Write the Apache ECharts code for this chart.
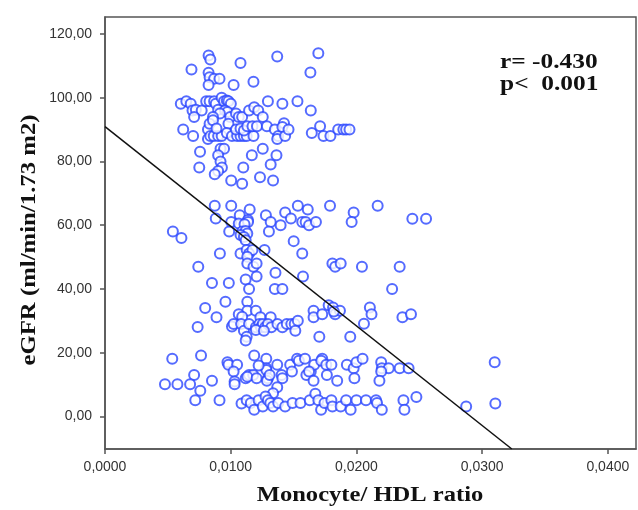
<!DOCTYPE html>
<html>
<head>
<meta charset="utf-8">
<script src="https://cdn.jsdelivr.net/npm/echarts@6/dist/echarts.min.js"></script>
<style>
  html, body { margin: 0; padding: 0; background: #fff; }
  #main { width: 638px; height: 510px; }
</style>
</head>
<body>
<div id="main"></div>
<script>
// points, [Monocyte/HDL ratio, eGFR], grouped by height
var band100 = [[0.00824,113.2],[0.00838,112.0],[0.00688,108.8],[0.01078,110.9],[0.0137,112.9],[0.01697,113.9],[0.01634,107.9],[0.00824,107.8],[0.00832,106.4],[0.00868,105.9],[0.00911,105.9],[0.00824,104.0],[0.01023,104.0],[0.01181,105.0]];
var band95 = [[0.00603,98.1],[0.00647,98.9],[0.00682,98.1],[0.00696,96.0],[0.00723,96.2],[0.00769,96.0],[0.00709,93.9],[0.00805,98.9],[0.00832,98.9],[0.00868,98.9],[0.00881,98.1],[0.00900,96.2],[0.00928,100.0],[0.00947,98.9],[0.00969,99.1],[0.00982,98.9],[0.01001,98.1],[0.00955,96.0],[0.00974,95.5],[0.00996,93.9],[0.00914,95.0],[0.00859,93.9],[0.01042,95.0],[0.01064,93.9],[0.01091,93.9],[0.01146,96.0],[0.01187,97.0],[0.01219,96.0],[0.01255,93.9],[0.01296,98.9],[0.01411,98.1],[0.01531,98.9],[0.01637,96.0]];
var band90 = [[0.00622,90.0],[0.00701,88.0],[0.00819,90.0],[0.00832,91.8],[0.00819,87.0],[0.00838,88.0],[0.00865,88.0],[0.00900,88.0],[0.00928,88.0],[0.00859,92.9],[0.00887,90.3],[0.00982,91.8],[0.00969,88.9],[0.01010,88.0],[0.01051,88.0],[0.01078,88.0],[0.01105,88.0],[0.01127,88.0],[0.01181,88.0],[0.01042,90.0],[0.01078,90.3],[0.01105,89.7],[0.01132,91.0],[0.01173,91.0],[0.01209,91.0],[0.01288,91.0],[0.01351,90.0],[0.01378,88.0],[0.0137,87.0],[0.01424,92.0],[0.01411,90.8],[0.01433,88.0],[0.01460,90.0],[0.01645,88.9],[0.01711,91.0],[0.01738,88.0],[0.01793,88.0],[0.01855,90.0],[0.01896,90.0],[0.01918,90.0],[0.01945,90.0]];
var band80 = [[0.00756,83.0],[0.00919,84.0],[0.00947,84.0],[0.00900,81.9],[0.00919,80.0],[0.00930,78.1],[0.00900,77.0],[0.00873,76.0],[0.00750,78.1],[0.01168,81.9],[0.01255,84.0],[0.01364,81.9],[0.01318,79.0],[0.01100,78.1],[0.01233,75.0],[0.01004,74.0],[0.01091,73.0],[0.01337,74.0]];
var band60 = [[0.00873,66.1],[0.01004,66.1],[0.01151,64.9],[0.01072,63.1],[0.00881,62.1],[0.01004,61.0],[0.01064,60.5],[0.01137,61.6],[0.01138,61.0],[0.01110,60.3],[0.01280,63.1],[0.01318,61.0],[0.01397,60.0],[0.01433,64.0],[0.01479,62.1],[0.01534,66.1],[0.01613,64.9],[0.01569,61.0],[0.01596,61.0],[0.01623,60.0],[0.01678,61.0],[0.01790,66.1],[0.01978,64.0],[0.01962,61.0],[0.02169,66.1],[0.02445,62.0],[0.02554,62.0],[0.00540,58.0],[0.00608,56.0],[0.00988,58.0],[0.01091,58.0],[0.01119,58.2],[0.01132,57.4],[0.01078,56.9],[0.01105,56.3],[0.01119,55.3],[0.01304,58.0],[0.01501,55.0]];
var band45 = [[0.00914,51.1],[0.01078,51.1],[0.01127,52.2],[0.01146,51.1],[0.01173,52.2],[0.01132,50.1],[0.01269,52.2],[0.01569,51.1],[0.00742,47.0],[0.01132,48.0],[0.01181,47.0],[0.01206,48.0],[0.01809,48.0],[0.01831,47.0],[0.01875,48.0],[0.02044,47.0],[0.02344,47.0],[0.01356,45.1],[0.01575,43.9],[0.01119,43.0],[0.01206,43.9],[0.00851,41.9],[0.00985,41.9],[0.01146,40.0],[0.01351,40.0],[0.01411,40.0],[0.02284,40.0]];
var band30 = [[0.01132,36.0],[0.00958,36.0],[0.00797,34.0],[0.01132,33.2],[0.01200,33.2],[0.01064,32.1],[0.01091,31.3],[0.00887,31.1],[0.01236,31.1],[0.01318,31.1],[0.00737,28.1],[0.01010,28.2],[0.01023,29.0],[0.01083,29.0],[0.01105,26.9],[0.01146,29.0],[0.01200,28.0],[0.01228,29.0],[0.01241,28.0],[0.01255,29.0],[0.01274,28.0],[0.01296,29.0],[0.01323,28.0],[0.01200,27.1],[0.01264,26.9],[0.01372,29.0],[0.01411,28.0],[0.01446,29.0],[0.01482,29.0],[0.01509,29.0],[0.01534,30.0],[0.01514,26.9],[0.01127,25.0],[0.01119,23.8],[0.01659,33.2],[0.01659,31.1],[0.01728,32.1],[0.01779,34.9],[0.01814,34.2],[0.01831,32.1],[0.01869,33.2],[0.01820,32.9],[0.02107,34.2],[0.02120,32.1],[0.02060,29.1],[0.02366,31.1],[0.02434,32.1],[0.01705,25.0],[0.01951,25.0]];
var band15 = [[0.00535,18.1],[0.00764,19.1],[0.00974,17.0],[0.00982,16.2],[0.01051,16.2],[0.01187,19.1],[0.01283,18.1],[0.01283,15.1],[0.01283,14.6],[0.01222,16.0],[0.01370,16.2],[0.01473,16.2],[0.01528,18.1],[0.01542,17.5],[0.01591,18.1],[0.01487,14.1],[0.01637,14.1],[0.01664,16.2],[0.01728,18.1],[0.01720,17.5],[0.01760,16.2],[0.01801,16.2],[0.01924,16.2],[0.01978,15.1],[0.02000,17.0],[0.02049,18.1],[0.02197,17.0],[0.02202,15.1],[0.02257,15.1],[0.02197,14.1],[0.02344,15.1],[0.02415,15.1],[0.03100,17.0],[0.00709,13.0],[0.01023,14.1]];
var band10 = [[0.00477,10.1],[0.00576,10.1],[0.00677,10.1],[0.00758,8.1],[0.00851,11.2],[0.01031,11.0],[0.01031,10.1],[0.01119,12.0],[0.01146,13.0],[0.01179,13.0],[0.01132,12.5],[0.01206,12.0],[0.01296,12.0],[0.01288,11.2],[0.01310,13.0],[0.01405,13.0],[0.01411,12.0],[0.01370,9.2],[0.01337,7.3],[0.01602,13.0],[0.01623,14.1],[0.01659,11.2],[0.01765,13.0],[0.01847,11.2],[0.01984,12.0],[0.02183,11.2]];
var band5 = [[0.00718,5.1],[0.00911,5.1],[0.01086,4.1],[0.01127,5.1],[0.01160,4.2],[0.01187,2.1],[0.01222,5.1],[0.01255,3.1],[0.01277,6.3],[0.01296,5.1],[0.01315,4.2],[0.01337,3.1],[0.01378,4.2],[0.01433,3.1],[0.01492,4.2],[0.01555,4.2],[0.01629,5.1],[0.01673,7.1],[0.01697,5.1],[0.01719,2.1],[0.01746,4.2],[0.01801,5.1],[0.01809,3.1],[0.01875,3.1],[0.01918,5.1],[0.01954,2.1],[0.02000,5.1],[0.02076,5.1],[0.02156,5.1],[0.02164,4.2],[0.02202,2.1],[0.02374,5.1],[0.02382,2.1],[0.02477,6.1],[0.02873,3.1],[0.03105,4.1]];

// fit line ends: at x = 0 and where it meets the bottom of the plot
var fitLine = [[0, 90.9], [0.03236, -10.2]];

var xTicks = [0, 0.01, 0.02, 0.03, 0.04];
var yTicks = [0, 20, 40, 60, 80, 100, 120];

var points = [].concat(band100, band95, band90, band80, band60, band45, band30, band15, band10, band5);

var chart = echarts.init(document.getElementById('main'), null, { renderer: 'canvas' });

var serif = '"Liberation Serif", "DejaVu Serif", serif';
var sans = '"Liberation Sans", Arial, sans-serif';
var axisGrey = '#555';

var option = {
  backgroundColor: '#fff',
  animation: false,
  grid: {
    left: 105,
    right: 2,
    top: 17,
    bottom: 61,
    show: true,
    borderColor: axisGrey,
    borderWidth: 1.5
  },
  xAxis: {
    type: 'value',
    min: 0,
    max: 0.04224,
    splitLine: { show: false },
    axisLine: { show: true, onZero: false, lineStyle: { color: axisGrey, width: 1.5 } },
    axisTick: { show: true, length: 5, customValues: xTicks, lineStyle: { color: axisGrey, width: 1.5 } },
    axisLabel: {
      customValues: xTicks,
      margin: 11,
      fontFamily: sans,
      fontSize: 14,
      color: '#333',
      formatter: function (v) { return v.toFixed(4).replace('.', ','); }
    }
  },
  yAxis: {
    type: 'value',
    min: -10.2,
    max: 125.3,
    splitLine: { show: false },
    axisLine: { show: true, onZero: false, lineStyle: { color: axisGrey, width: 1.5 } },
    axisTick: { show: true, length: 5, customValues: yTicks, lineStyle: { color: axisGrey, width: 1.5 } },
    axisLabel: {
      customValues: yTicks,
      margin: 13,
      fontFamily: sans,
      fontSize: 14,
      color: '#333',
      formatter: function (v) { return v.toFixed(2).replace('.', ','); }
    }
  },
  // axis titles and the r / p note are stretched a little, like the picture
  graphic: [
    {
      type: 'text',
      x: 370, y: 496,
      scaleX: 1.17,
      style: { text: 'Monocyte/ HDL ratio', font: 'bold 21px ' + serif, fill: '#111',
               textAlign: 'center', textVerticalAlign: 'middle' }
    },
    {
      type: 'text',
      x: 30, y: 240,
      rotation: Math.PI / 2,
      scaleX: 1.18,
      style: { text: 'eGFR (ml/min/1.73 m2)', font: 'bold 21px ' + serif, fill: '#111',
               textAlign: 'center', textVerticalAlign: 'middle' }
    },
    {
      type: 'text',
      x: 500, y: 63,
      scaleX: 1.27,
      style: { text: 'r= -0.430', font: 'bold 20px ' + serif, fill: '#111',
               textAlign: 'left', textVerticalAlign: 'middle' }
    },
    {
      type: 'text',
      x: 500, y: 85,
      scaleX: 1.27,
      style: { text: 'p<  0.001', font: 'bold 20px ' + serif, fill: '#111',
               textAlign: 'left', textVerticalAlign: 'middle' }
    }
  ],
  series: [
    {
      type: 'scatter',
      data: points,
      symbol: 'emptyCircle',
      symbolSize: 10,
      itemStyle: { color: '#2a46ff', borderWidth: 1.3 }
    },
    {
      type: 'line',
      data: fitLine,
      showSymbol: false,
      symbol: 'none',
      lineStyle: { color: '#111', width: 1.5 },
      z: 3
    }
  ]
};

chart.setOption(option);
</script>
</body>
</html>
